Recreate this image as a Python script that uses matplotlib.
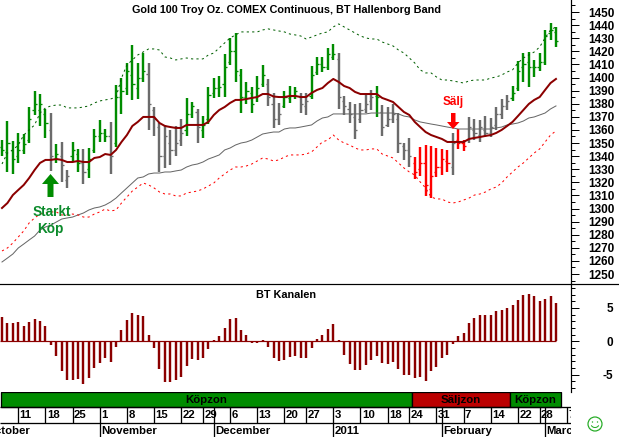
import matplotlib
matplotlib.use("Agg")
import matplotlib.pyplot as plt
from matplotlib.patches import Circle, Arc, Polygon, Rectangle
from matplotlib.ticker import MultipleLocator

plt.rcParams['font.family'] = ['Liberation Sans', 'DejaVu Sans']
plt.rcParams['font.weight'] = 'bold'
plt.rcParams['axes.unicode_minus'] = False

# Daily gold futures, one entry per session
highs = [1352.3,1366.8,1351.6,1357.7,1356.9,1377.5,1389.7,1387.4,1376.0,1372.9,1349.3,1350.8,1329.4,1350.8,1345.5,1345.5,1346.2,1360.7,1367.6,1360.7,
         1366.1,1394.3,1399.6,1411.1,1424.8,1411.1,1418.7,1411.1,1377.5,1365.3,1363.8,1360.0,1363.0,1368.4,1384.4,1381.3,1376.0,1370.6,1392.8,1399.6,
         1401.2,1418.0,1430.2,1434.0,1406.5,1396.6,1392.8,1401.2,1409.6,1398.9,1388.2,1380.6,1389.7,1393.5,1392.8,1388.2,1388.2,1408.8,1415.7,1415.7,
         1422.6,1425.6,1418.7,1385.9,1381.3,1379.8,1380.6,1388.2,1390.5,1393.5,1379.0,1377.5,1379.8,1372.9,1350.0,1353.9,1339.3,1347.0,1348.5,1347.7,
         1346.2,1345.5,1344.7,1357.7,1360.7,1352.3,1369.9,1368.4,1367.6,1370.6,1369.1,1377.5,1383.6,1386.7,1393.5,1412.6,1418.7,1419.5,1413.4,1418.7,
         1436.3,1441.6,1438.6]
lows = [1340.1,1327.9,1326.4,1334.8,1341.6,1350.0,1371.4,1363.0,1353.9,1328.7,1334.8,1320.3,1315.7,1335.5,1327.9,1318.7,1323.3,1342.4,1350.8,1350.8,
        1326.4,1347.0,1372.2,1386.7,1382.9,1383.6,1396.6,1360.0,1355.4,1327.9,1331.0,1333.2,1340.1,1347.7,1355.4,1369.1,1350.0,1353.9,1364.5,1384.4,
        1385.1,1385.1,1409.6,1396.6,1372.9,1379.8,1372.9,1381.3,1392.8,1378.3,1361.5,1363.8,1376.8,1380.6,1383.6,1372.9,1371.4,1383.6,1401.9,1404.2,
        1405.8,1413.4,1376.0,1371.4,1365.3,1353.1,1365.3,1372.9,1375.2,1369.9,1355.4,1362.2,1365.3,1342.4,1337.1,1331.7,1322.6,1324.8,1309.6,1308.0,
        1324.1,1325.6,1327.9,1325.6,1345.5,1343.9,1350.0,1352.3,1350.8,1354.6,1354.6,1360.0,1368.4,1375.2,1382.1,1389.7,1396.6,1392.8,1400.4,1405.0,
        1409.6,1428.7,1423.3]
opens = [1347,1343,1345,1340,1345,1352,1375,1375,1372,1360,1338,1340,1322,1340,1342,1335,1330,1345,1355,1358,
         1355,1350,1385,1392,1402,1392,1400,1403,1375,1362,1340,1350,1345,1352,1360,1372,1374,1360,1368,1388,
         1392,1395,1412,1420,1402,1385,1388,1385,1395,1395,1380,1368,1378,1384,1386,1385,1378,1386,1404,1410,
         1408,1416,1414,1382,1376,1370,1368,1376,1382,1386,1374,1364,1368,1368,1348,1345,1335,1330,1335,1315,
         1328,1332,1336,1332,1352,1350,1352,1360,1356,1360,1358,1364,1372,1378,1384,1392,1408,1412,1408,1408,
         1412,1434,1435]
closes = [1345,1350,1338,1345,1349,1368,1380,1380,1365,1340,1342,1333,1325,1345,1335,1328,1338,1355,1358,1355,
          1340,1385,1390,1405,1395,1400,1405,1380,1368,1340,1355,1345,1350,1358,1372,1378,1362,1364,1387,1392,
          1393,1408,1420,1405,1385,1390,1380,1392,1402,1385,1368,1372,1385,1386,1390,1380,1382,1402,1410,1408,
          1418,1418,1385,1378,1372,1360,1375,1380,1385,1385,1362,1368,1372,1350,1345,1340,1328,1335,1318,1325,
          1332,1338,1335,1350,1350,1348,1362,1358,1362,1358,1362,1372,1378,1382,1388,1405,1410,1408,1408,1412,
          1432,1436,1428]
# g = buy signal, n = neutral, r = sell signal
states = ("ggggggggg" "n" "g" "nn" "gg" "n" "gggg" "n" "gggggg" "nnnnnnn" "gg" "n"
          "gggggggggggg" "nnn" "ggg" "nn" "ggggg" "nnnnnnn" "g" "nnnnnn"
          "rrrrrrr" "n" "rr" "nnnnnnnn" "ggggggggg")

hallenborg = [1300.4,1304.2,1310.3,1314.2,1318.0,1323.3,1329.4,1334.8,1337.1,1337.1,1337.8,1337.1,1335.5,1335.5,1336.3,1335.5,1335.5,1338.6,1339.3,1341.6,
              1340.9,1344.7,1350.8,1356.1,1363.0,1366.1,1369.9,1369.9,1369.9,1365.3,1363.0,1362.2,1361.5,1361.5,1363.8,1363.8,1363.8,1363.8,1366.1,1371.4,
              1375.2,1377.5,1380.6,1382.9,1382.9,1383.6,1384.4,1385.1,1387.4,1387.4,1385.5,1385.1,1385.1,1385.9,1385.9,1385.1,1385.1,1388.2,1390.5,1392.0,
              1395.8,1398.9,1396.6,1393.5,1392.0,1389.0,1387.4,1387.4,1387.4,1387.4,1384.4,1382.9,1381.3,1377.5,1373.7,1371.4,1366.1,1362.2,1358.4,1356.1,
              1354.6,1353.1,1350.8,1350.8,1350.8,1350.8,1353.1,1353.9,1354.6,1355.4,1356.1,1357.7,1360.0,1363.0,1366.1,1370.6,1375.2,1379.8,1382.9,1385.1,
              1390.5,1395.8,1398.9]
slow_average = [1259.2,1262.2,1265.3,1269.9,1272.9,1276.0,1279.0,1283.6,1285.9,1287.4,1289.7,1292.0,1292.8,1293.5,1295.1,1296.6,1298.9,1300.4,1301.2,1302.7,
                1305.0,1308.0,1311.9,1315.7,1319.5,1323.3,1324.1,1326.4,1327.1,1327.1,1327.9,1327.9,1328.7,1329.4,1331.7,1333.2,1334.0,1335.5,1337.8,1339.3,
                1340.9,1344.7,1346.2,1348.5,1350.0,1350.8,1352.3,1354.6,1356.9,1357.7,1358.4,1358.4,1360.7,1361.5,1361.5,1362.2,1363.0,1363.8,1366.8,1369.1,
                1369.9,1372.2,1372.2,1372.2,1372.2,1372.2,1372.2,1372.2,1372.9,1372.9,1372.9,1372.9,1372.9,1372.2,1370.6,1369.9,1367.6,1366.1,1365.3,1364.5,
                1363.8,1363.0,1362.2,1361.5,1360.7,1360.7,1360.7,1360.7,1360.7,1360.7,1360.7,1361.5,1362.2,1363.8,1364.5,1365.3,1366.8,1369.1,1369.9,1371.4,
                1372.9,1376.0,1378.3]
upper_band = [1334.0,1342.4,1344.7,1348.5,1356.1,1360.0,1363.8,1372.9,1376.8,1378.3,1379.0,1379.0,1376.8,1376.8,1376.8,1377.5,1378.3,1380.6,1382.1,1382.9,
              1383.6,1385.1,1399.6,1409.6,1413.4,1417.2,1419.5,1421.8,1421.8,1421.0,1415.7,1414.9,1413.4,1414.2,1414.9,1414.2,1414.2,1414.2,1417.2,1418.7,
              1422.6,1426.4,1430.2,1432.5,1434.8,1434.8,1434.8,1434.8,1436.3,1437.1,1436.3,1435.5,1434.8,1433.2,1432.5,1431.7,1429.4,1430.9,1432.5,1434.0,
              1434.8,1438.6,1440.9,1438.6,1436.3,1434.0,1431.7,1430.2,1429.4,1429.4,1427.1,1425.6,1424.1,1421.0,1418.7,1414.9,1411.1,1405.8,1403.5,1403.5,
              1400.4,1398.1,1398.1,1397.4,1396.6,1395.8,1397.4,1398.1,1398.1,1398.1,1399.6,1400.4,1401.9,1404.2,1405.8,1411.1,1414.9,1417.2,1419.5,1423.3,
              1430.2,1436.3,1438.6]
lower_band = [1267.6,1269.9,1273.7,1278.3,1282.9,1289.0,1292.8,1295.8,1296.6,1297.4,1297.4,1295.1,1295.1,1295.8,1295.1,1293.5,1293.5,1295.8,1297.4,1299.6,
              1298.1,1298.9,1304.2,1308.8,1313.4,1316.4,1319.5,1318.0,1315.7,1312.6,1311.1,1311.1,1309.6,1309.6,1311.9,1312.6,1313.4,1314.9,1317.2,1319.5,
              1323.3,1326.4,1329.4,1331.7,1331.7,1332.5,1334.0,1336.3,1338.6,1337.8,1336.3,1337.1,1339.3,1340.9,1340.9,1340.9,1341.6,1343.2,1347.0,1350.8,
              1352.3,1356.1,1352.3,1350.0,1348.5,1346.2,1344.7,1344.7,1345.5,1345.5,1341.6,1340.1,1338.6,1334.8,1331.0,1327.9,1325.6,1320.3,1315.7,1308.8,
              1307.3,1307.3,1305.0,1304.2,1305.0,1306.5,1308.0,1310.3,1311.1,1312.6,1314.9,1316.4,1319.5,1324.1,1327.9,1331.7,1334.8,1338.6,1342.4,1345.5,
              1350.8,1356.1,1359.2]
channel = [3.65,2.8,2.75,2.9,2.25,2.9,3.4,3.0,2.3,-0.6,-2.2,-4.45,-5.75,-5.8,-5.7,-6.35,-5.5,-3.95,-3.2,-2.5,
           -3.1,-0.85,1.65,3.25,4.3,4.0,3.8,0.9,-1.0,-4.1,-6.05,-6.1,-5.85,-5.35,-3.65,-2.7,-2.75,-2.5,-1.1,0.25,
           0.75,2.05,3.4,3.45,1.65,0.9,-0.25,-0.25,0.25,-0.85,-2.5,-2.95,-2.85,-2.35,-2.2,-2.5,-2.5,-0.95,0.4,0.9,
           1.9,2.55,0.15,-2.1,-3.4,-4.3,-4.3,-3.6,-2.75,-2.25,-3.25,-3.4,-3.1,-4.2,-5.1,-5.1,-5.5,-5.35,-5.95,-4.45,
           -3.85,-2.5,-2.1,-0.35,0.75,1.3,2.8,3.55,3.9,3.9,3.9,4.5,4.65,5.0,5.4,6.15,6.9,7.15,6.75,6.0,
           6.3,6.75,5.8]

zone_names = ["Köpzon", "Säljzon", "Köpzon"]
zone_edges = [-0.18, 75.5, 93.6, 102.9]
zone_colors = ["#008c00", "#bb0000", "#008c00"]

week_ticks = [3,8,13,18,23,28,33,37,39,42,47,52,56,61,66,71,75,80,81,85,90,95,99,100,104]
day_positions = [3,8,13,18,23,28,33,37,42,47,52,56,61,66,71,75,80,85,90,95,99,104]
day_labels = ["11","18","25","1","8","15","22","29","6","13","20","27","3","10","18","24","31","7","14","22","28","7"]
month_positions = [18,39,61,81,100]
month_names = ["November","December","2011","February","March"]

W, H = 619, 437
XLIM = (-2/5.431, 569.3/5.431)
GREEN, GREY, RED, WINE = "#008c00", "#6b6b6b", "#ff0000", "#8b0000"
PX = 0.72  # one pixel, in points

def axes_at(left, top, right, bottom):
    return [left/W, 1-bottom/H, (right-left)/W, (bottom-top)/H]

fig = plt.figure(figsize=(W/100, H/100), dpi=100, facecolor="white")

# Price panel
ax = fig.add_axes(axes_at(0, 0, 571.3, 284))
ax.set_xlim(*XLIM)
ax.set_ylim(1242.4, 1459.16)
palette = {"g": GREEN, "n": GREY, "r": RED}
for i, state in enumerate(states):
    c = palette[state]
    ax.vlines(i, lows[i], highs[i], color=c, lw=2.4*PX, zorder=2, snap=True)
    ax.hlines(opens[i], i-0.4, i, color=c, lw=1.3*PX, zorder=2, snap=True)
    ax.hlines(closes[i], i, i+0.4, color=c, lw=1.3*PX, zorder=2, snap=True)
days = list(range(len(highs)))
ax.plot(days, slow_average, color="#666666", lw=PX, zorder=3)
dots = (0, (2.2, 3.2))
ax.plot(days, upper_band, color="#005f00", lw=PX, ls=dots, zorder=3)
ax.plot(days, lower_band, color=RED, lw=PX, ls=dots, zorder=3)
ax.plot(days, hallenborg, color=WINE, lw=2*PX, zorder=4)

# Channel oscillator panel
osc = fig.add_axes(axes_at(0, 284, 571.3, 392))
osc.set_xlim(*XLIM)
osc.set_ylim(-7.59, 8.58)
osc.vlines(days, 0, channel, color=WINE, lw=2.4*PX, snap=True)
osc.hlines(0, XLIM[0], days[-1], color=WINE, lw=1.2*PX)

for a, major, minor, pad, ha in ((ax, 10, 5, 6.5, "left"), (osc, 5, 1, 24.5, "right")):
    a.patch.set_visible(False)
    for side in ("top", "left", "bottom"):
        a.spines[side].set_visible(False)
    a.spines["right"].set_linewidth(PX*1.2)
    a.xaxis.set_visible(False)
    a.yaxis.tick_right()
    a.yaxis.set_major_locator(MultipleLocator(major))
    a.yaxis.set_minor_locator(MultipleLocator(minor))
    a.tick_params(axis="y", which="major", length=5.8, width=PX, pad=pad, labelsize=8.5)
    a.tick_params(axis="y", which="minor", length=2.9, width=PX)
    for lab in a.get_yticklabels():
        lab.set_ha(ha)
        lab.set_fontweight("bold")

# Calendar strip with the signal zones
cal = fig.add_axes(axes_at(0, 392, 571.3, 437))
cal.set_xlim(*XLIM)
cal.set_ylim(437, 392)
cal.axis("off")
for name, x0, x1, col in zip(zone_names, zone_edges[:-1], zone_edges[1:], zone_colors):
    cal.add_patch(Rectangle((x0, 392.5), x1-x0, 14.5, fc=col, ec="black", lw=1.3*PX))
    cal.text((x0+x1)/2, 400.5, name, ha="center", va="center", fontsize=8.2, color="black")
cal.hlines([407, 423], XLIM[0], XLIM[1], color="black", lw=1.3*PX)
cal.vlines(week_ticks, 407, 423, color="black", lw=1.3*PX)
cal.vlines(month_positions, 423, 437, color="black", lw=1.3*PX)
for pos, lab in zip(day_positions, day_labels):
    cal.text(pos+0.25, 415.5, lab, ha="left", va="center", fontsize=8.2, clip_on=True)
for pos, lab in zip(month_positions, month_names):
    cal.text(pos+0.25, 431, lab, ha="left", va="center", fontsize=8.2, clip_on=True)
cal.text(-2.9, 431, "October", ha="left", va="center", fontsize=8.2, clip_on=True)

# Headings, signal markers and separators
top = fig.add_axes([0, 0, 1, 1])
top.set_xlim(0, W)
top.set_ylim(H, 0)
top.axis("off")
top.patch.set_visible(False)
top.text(286, 10, "Gold 100 Troy Oz. COMEX Continuous, BT Hallenborg Band", ha="center", va="center", fontsize=7.85)
top.text(286, 295, "BT Kanalen", ha="center", va="center", fontsize=7.85)
top.plot([0, W], [284, 284], color="black", lw=1.2*PX)

top.add_patch(Polygon([(50.5,174),(59,184),(53.5,184),(53.5,197),(47.5,197),(47.5,184),(42,184)], closed=True, fc=GREEN, ec="none"))
top.text(51.5, 212, "Starkt", ha="center", va="center", fontsize=9.8, color="#0a8a2a")
top.text(50.5, 229, "Köp", ha="center", va="center", fontsize=9.8, color="#0a8a2a")

top.add_patch(Polygon([(451,113),(455.5,113),(455.5,122),(459.5,122),(453,129),(447,122),(451,122)], closed=True, fc=RED, ec="none"))
top.text(453, 102, "Sälj", ha="center", va="center", fontsize=8.5, color=RED)

# Smiley in the lower right corner
smile = "#22aa22"
top.add_patch(Circle((595, 424), 7, fc="white", ec=smile, lw=1.2*PX))
top.add_patch(Circle((592.5, 422), 0.7, fc=smile, ec="none"))
top.add_patch(Circle((597.5, 422), 0.7, fc=smile, ec="none"))
top.add_patch(Arc((595, 424), 8, 7, theta1=20, theta2=160, ec=smile, lw=PX))

fig.savefig("out.png", dpi=100, facecolor="white")
